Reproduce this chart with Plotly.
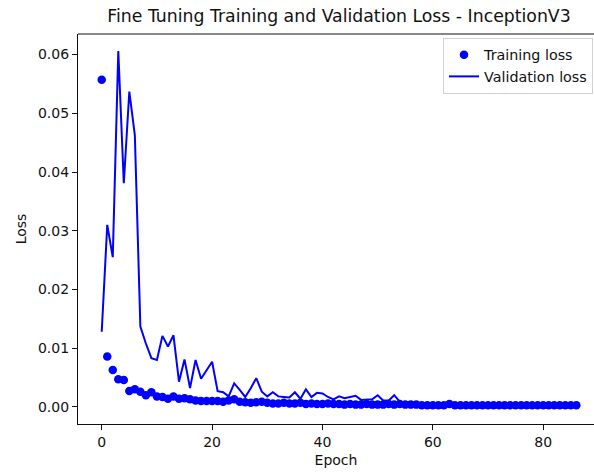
import plotly.graph_objects as go

epochs = list(range(87))

training_loss = [
    0.0557, 0.0086, 0.0063, 0.0047, 0.0046, 0.0027, 0.0030, 0.0026, 0.0020, 0.0025,
    0.0018, 0.0017, 0.0014, 0.0018, 0.0014, 0.0015, 0.0013, 0.0011, 0.0010, 0.0010,
    0.0010, 0.0010, 0.0009, 0.0011, 0.0013, 0.0009, 0.0008, 0.0007, 0.0008, 0.0009,
    0.0007, 0.0006, 0.0006, 0.0007, 0.0006, 0.0006, 0.0007, 0.0005, 0.0006, 0.0005,
    0.0005, 0.0006, 0.0005, 0.0005, 0.0004, 0.0005, 0.0004, 0.0004, 0.0005, 0.0004,
    0.0004, 0.0004, 0.0005, 0.0004, 0.0005, 0.0004, 0.0004, 0.0004, 0.0003, 0.0003,
    0.0003, 0.0003, 0.0003, 0.0005, 0.0003, 0.0003, 0.0003, 0.0003, 0.0003, 0.0003,
    0.0003, 0.0003, 0.0003, 0.0003, 0.0003, 0.0003, 0.0003, 0.0003, 0.0003, 0.0003,
    0.0003, 0.0003, 0.0003, 0.0003, 0.0003, 0.0003, 0.0003,
]

validation_loss = [
    0.0128, 0.0310, 0.0255, 0.0606, 0.0381, 0.0537, 0.0463, 0.0137, 0.0108, 0.0083,
    0.0080, 0.0121, 0.0103, 0.0122, 0.0043, 0.0081, 0.0032, 0.0080, 0.0048, 0.0063,
    0.0077, 0.0027, 0.0025, 0.0018, 0.0040, 0.0029, 0.0017, 0.0032, 0.0049, 0.0026,
    0.0018, 0.0025, 0.0018, 0.0017, 0.0016, 0.0025, 0.0014, 0.0030, 0.0017, 0.0024,
    0.0023, 0.0017, 0.0013, 0.0018, 0.0015, 0.0017, 0.0019, 0.0012, 0.0013, 0.0013,
    0.0020, 0.0011, 0.0011, 0.0020, 0.0009, 0.0008, 0.0007, 0.0006, 0.0005, 0.0005,
    0.0005, 0.0004, 0.0004, 0.0005, 0.0004, 0.0004, 0.0004, 0.0004, 0.0004, 0.0004,
    0.0004, 0.0004, 0.0004, 0.0004, 0.0004, 0.0004, 0.0004, 0.0004, 0.0004, 0.0004,
    0.0004, 0.0004, 0.0004, 0.0004, 0.0004, 0.0004, 0.0004,
]

x_ticks = [0, 20, 40, 60, 80]
y_ticks = [0.00, 0.01, 0.02, 0.03, 0.04, 0.05, 0.06]
y_tick_labels = ["0.00", "0.01", "0.02", "0.03", "0.04", "0.05", "0.06"]

FONT = "DejaVu Sans"
TXT = "#111111"

fig = go.Figure()
fig.add_trace(go.Scatter(
    x=epochs, y=training_loss, mode="markers", name="Training loss",
    marker=dict(color="#0000ff", size=8.5, line=dict(width=0)),
))
fig.add_trace(go.Scatter(
    x=epochs, y=validation_loss, mode="lines", name="Validation loss",
    line=dict(color="#0000ff", width=2),
))

fig.update_layout(
    width=594, height=472,
    margin=dict(l=78, r=0, t=34, b=48),
    paper_bgcolor="white", plot_bgcolor="white",
    font=dict(family=FONT, size=14, color=TXT),
    title=dict(text="Fine Tuning Training and Validation Loss - InceptionV3",
               x=(339 / 594), xanchor="center", y=1 - 16 / 472, yanchor="middle",
               font=dict(family=FONT, size=17.3, color=TXT)),
    showlegend=True,
    legend=dict(x=1.0 - 1 / 516, xanchor="right", y=1 - 4 / 390, yanchor="top",
                bordercolor="#d0d0d0", borderwidth=1, bgcolor="rgba(255,255,255,0.8)",
                font=dict(family=FONT, size=14.3, color=TXT),
                itemwidth=30, tracegroupgap=0),
    xaxis=dict(range=[-4.3, 89.2], tickvals=x_ticks, ticks="outside", ticklen=5,
               tickcolor=TXT, showgrid=False, zeroline=False,
               showline=True, linecolor=TXT, linewidth=1.2,
               title=dict(text="Epoch", standoff=6, font=dict(family=FONT, size=14)),
               tickfont=dict(family=FONT, size=14, color=TXT)),
    yaxis=dict(range=[-0.0029, 0.0635], tickvals=y_ticks, ticktext=y_tick_labels,
               ticks="outside", ticklen=5, tickcolor=TXT, showgrid=False,
               zeroline=False, showline=True, linecolor=TXT, linewidth=1.2,
               title=dict(text="Loss", standoff=8, font=dict(family=FONT, size=14)),
               tickfont=dict(family=FONT, size=14, color=TXT)),
    shapes=[dict(type="line", xref="paper", yref="paper", x0=0, x1=1, y0=1, y1=1,
                 line=dict(color=TXT, width=1.2))],
)

fig.write_html("out.html")
